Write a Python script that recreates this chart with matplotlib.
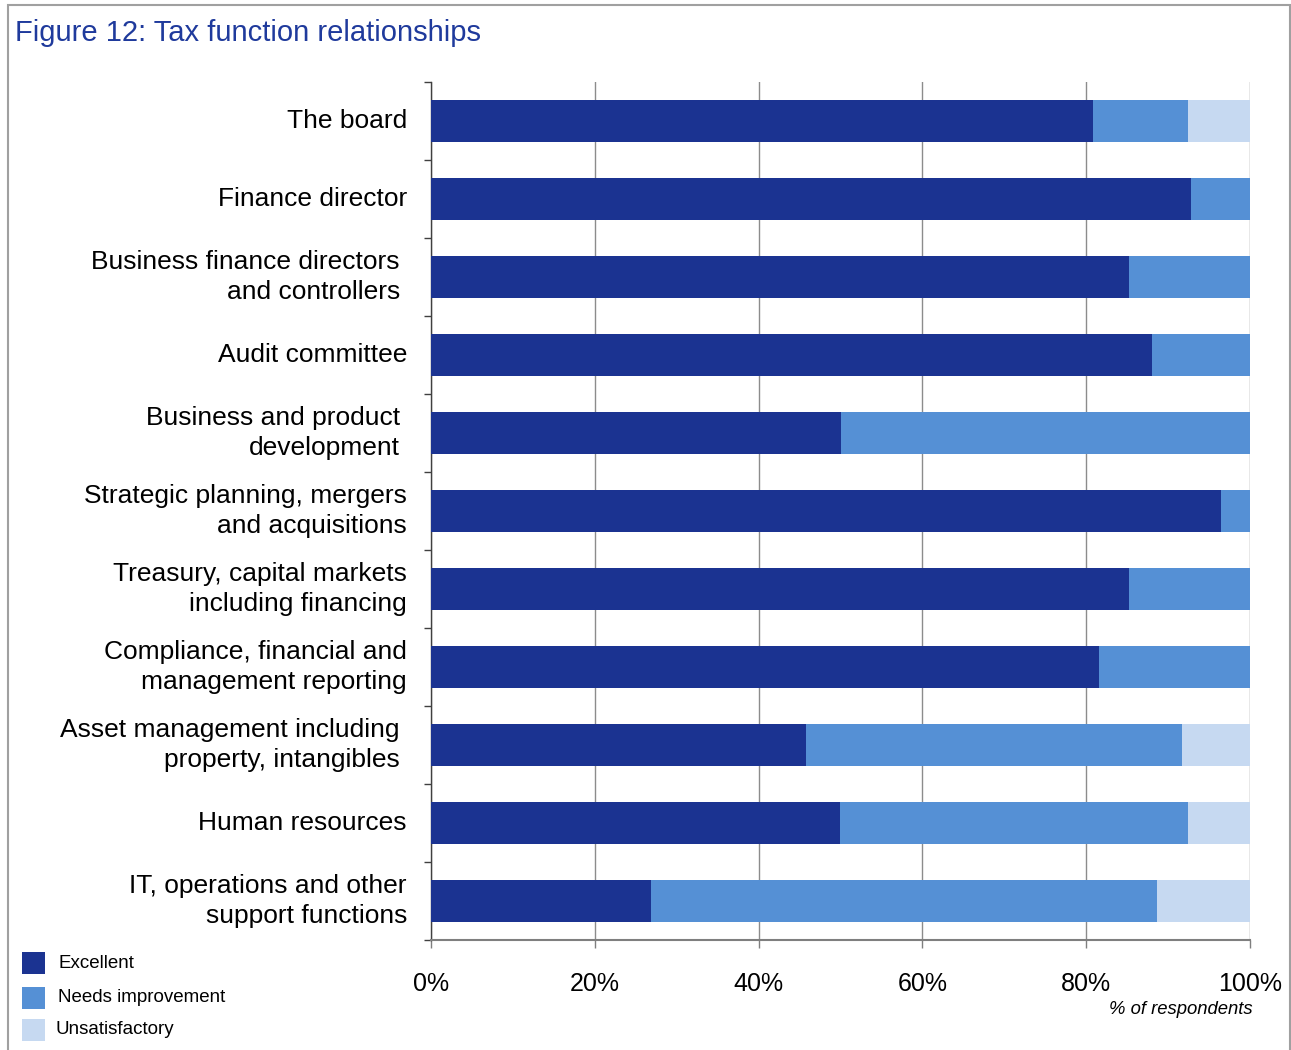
import matplotlib
matplotlib.use("Agg")
import matplotlib.pyplot as plt
from matplotlib.patches import Rectangle

categories = [
    "The board",
    "Finance director",
    "Business finance directors\nand controllers",
    "Audit committee",
    "Business and product\ndevelopment",
    "Strategic planning, mergers\nand acquisitions",
    "Treasury, capital markets\nincluding financing",
    "Compliance, financial and\nmanagement reporting",
    "Asset management including\nproperty, intangibles",
    "Human resources",
    "IT, operations and other\nsupport functions",
]
excellent = [80.8, 92.8, 85.2, 88.0, 50.1, 96.5, 85.2, 81.6, 45.8, 50.0, 26.9]
needs_improvement = [11.6, 7.2, 14.8, 12.0, 49.9, 3.5, 14.8, 18.4, 45.9, 42.4, 61.7]
unsatisfactory = [7.6, 0.0, 0.0, 0.0, 0.0, 0.0, 0.0, 0.0, 8.3, 7.6, 11.4]
series_names = ["Excellent", "Needs improvement", "Unsatisfactory"]
xtick_values = [0, 20, 40, 60, 80, 100]
xtick_labels = ["0%", "20%", "40%", "60%", "80%", "100%"]
indented = {2, 4, 8}

colors = ["#1b3391", "#5590d5", "#c6d9f1"]
title_color = "#1f3a9c"

plt.rcParams["font.family"] = ["Liberation Sans", "DejaVu Sans"]

W, H = 1291, 1050
fig = plt.figure(figsize=(W / 100, H / 100), dpi=100)
fig.patch.set_facecolor("white")

# outer frame
fig.add_artist(Rectangle((8 / W, -0.01), (1290 - 8) / W, 1 - 5 / H + 0.01,
                         transform=fig.transFigure, fill=False,
                         edgecolor="#a0a0a0", linewidth=1.5))

fig.text(15 / W, 1 - 33 / H, "Figure 12: Tax function relationships",
         color=title_color, fontsize=21, va="center", ha="left")

ax = fig.add_axes([431 / W, 1 - 940 / H, (1250 - 431) / W, (940 - 82) / H])

n = len(categories)
ypos = list(range(n))
bar_h = 0.53
left = [0.0] * n
for vals, col, name in zip([excellent, needs_improvement, unsatisfactory], colors, series_names):
    ax.barh(ypos, vals, left=left, height=bar_h, color=col, label=name, zorder=3)
    left = [a + b for a, b in zip(left, vals)]

ax.set_xlim(0, 100)
ax.set_ylim(n - 0.5, -0.5)

ax.set_xticks(xtick_values)
ax.set_xticklabels(xtick_labels, fontsize=18)
ax.tick_params(axis="x", direction="out", length=6, width=1, color="#7f7f7f", pad=17)
ax.xaxis.grid(True, color="#8c8c8c", linewidth=1, zorder=0)

# boundary ticks between categories on the left spine
ax.set_yticks([i - 0.5 for i in range(n + 1)])
ax.set_yticklabels([])
ax.tick_params(axis="y", direction="out", length=5, width=1, color="#404040")

for i, lab in enumerate(categories):
    off = -31 if i in indented else -24
    ax.annotate(lab, xy=(0, i), xycoords=("axes fraction", "data"),
                xytext=(off, 0), textcoords="offset pixels",
                ha="right", va="center", fontsize=19, linespacing=1.3, color="black")

for s in ["top", "right"]:
    ax.spines[s].set_visible(False)
ax.spines["left"].set_color("#404040")
ax.spines["bottom"].set_color("#7f7f7f")
ax.spines["left"].set_linewidth(1)
ax.spines["bottom"].set_linewidth(1.5)

fig.text(1253 / W, 1 - 1010 / H, "% of respondents",
         fontsize=13.3, style="italic", ha="right", va="center")

# legend
leg_y = [963, 998, 1030]
leg_tx = [58, 58, 56]
for yc, tx, col, name in zip(leg_y, leg_tx, colors, series_names):
    fig.add_artist(Rectangle((22 / W, 1 - (yc + 11) / H), 23 / W, 22 / H,
                             transform=fig.transFigure, facecolor=col, edgecolor="none"))
    fig.text(tx / W, 1 - yc / H, name, fontsize=13.5, ha="left", va="center")

fig.savefig("out.png", dpi=100, facecolor="white")
